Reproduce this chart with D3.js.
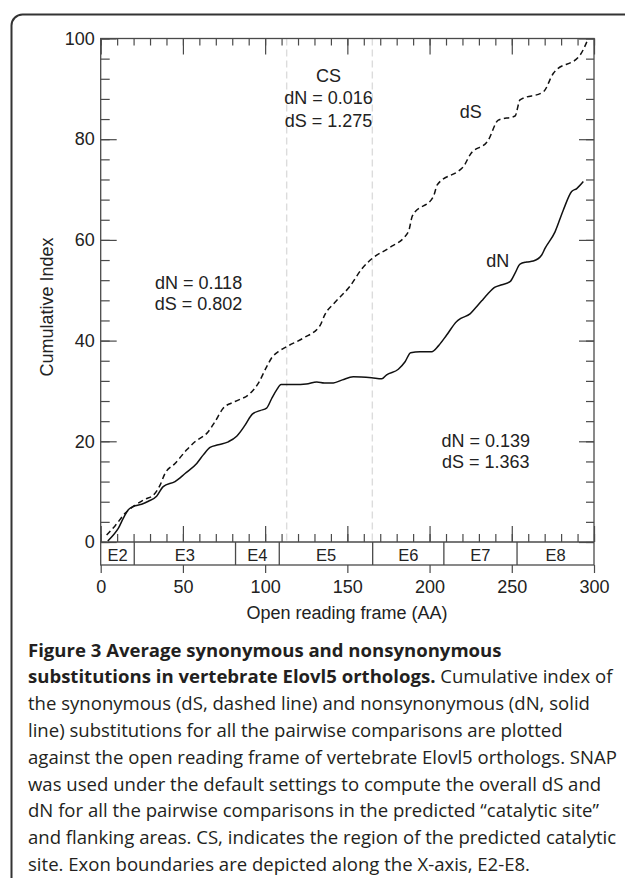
<!DOCTYPE html>
<html><head><meta charset="utf-8">
<script src="https://cdn.jsdelivr.net/npm/d3@7"></script>
<style>body{margin:0;background:#fff}</style>
</head><body><svg id="c" width="625" height="878"></svg>
<script>
// ---- data ----
const dnX = [4.3,7.7,10.7,13.7,16.8,20.9,24.9,29,34,38,45.2,51.3,58.4,62.4,66.5,71.5,77.6,82.7,87.8,92.2,96.9,100.9,104,107,109.7,118,125,131.4,136,141.5,147,153.6,164.8,170.9,173.9,181,185.1,188.5,194.2,201.3,205.5,210.4,216.5,219,224.6,228,231.7,235.5,239.8,244,248.9,252,255,259,263.1,268.2,270.2,276.3,281.3,286.4,289.5,293.5];
const dnY = [0.2,1.4,2.7,4.7,6.4,7.2,7.5,8.1,9.1,11,12,13.6,15.6,17.3,18.8,19.3,19.9,21,23.2,25.4,26.1,26.6,28.5,30.2,31.3,31.3,31.4,31.8,31.6,31.6,32.2,32.8,32.6,32.4,33.2,34.3,35.8,37.6,37.8,37.8,39,41.1,43.8,44.4,45.3,46.5,47.9,49.3,50.6,51.1,51.7,53.4,55.2,55.6,55.8,57,58.3,61.6,65.9,69.6,70.2,71.6];
const dsX = [3.6,8.7,14.8,20.9,27,32,36.1,39.1,45.2,52.3,57.3,65.4,69.5,74.6,81.7,90.8,95.8,100.9,104,108,113.1,123.2,133.4,136.4,142.5,151.6,158.7,165.8,174.9,187.1,189.6,202.3,204.8,218.5,220.5,224.6,235.7,241.8,252,255,269.2,275.3,291.5,296.5];
const dsY = [1.4,3.2,5.7,7.3,8.5,9.3,11.3,13.6,15.6,18.3,19.9,21.9,23.9,26.6,27.9,29.5,31.5,34.8,36.6,37.8,38.8,40.5,43,45.2,47.6,50.8,54.2,56.5,58.3,61.6,64.8,68.6,71,73.9,74.5,76.9,79.8,83.8,84.6,87.8,89.4,93.1,96.7,100];
const exonNames = ["E2","E3","E4","E5","E6","E7","E8"];
const exonStarts = [0,20.4,82,108.6,165.4,208.7,253.2];
const exonEnds = [20.4,82,108.6,165.4,208.7,253.2,300];
const csBounds = [113.1,165.2];
const xTicks = [0,50,100,150,200,250,300];
const yTicks = [0,20,40,60,80,100];
const regionTexts = [
  {lines:["CS","dN = 0.016","dS = 1.275"], xv:138.5, yv:[91.4,87.0,82.5]},
  {lines:["dN = 0.118","dS = 0.802"], xv:59.5, yv:[50.3,46.0]},
  {lines:["dN = 0.139","dS = 1.363"], xv:234.2, yv:[18.9,14.6]}
];
const seriesLabels = [{t:"dS", xv:225, yv:84.3},{t:"dN", xv:241.5, yv:54.6}];
const xTitle = "Open reading frame (AA)";
const yTitle = "Cumulative Index";
const captionLines = [
  [["b","Figure 3 Average synonymous and nonsynonymous"]],
  [["b","substitutions in vertebrate Elovl5 orthologs."],["r"," Cumulative index of"]],
  [["r","the synonymous (dS, dashed line) and nonsynonymous (dN, solid"]],
  [["r","line) substitutions for all the pairwise comparisons are plotted"]],
  [["r","against the open reading frame of vertebrate Elovl5 orthologs. SNAP"]],
  [["r","was used under the default settings to compute the overall dS and"]],
  [["r","dN for all the pairwise comparisons in the predicted \u201ccatalytic site\u201d"]],
  [["r","and flanking areas. CS, indicates the region of the predicted catalytic"]],
  [["r","site. Exon boundaries are depicted along the X-axis, E2-E8."]]
];

// ---- drawing ----
const svg = d3.select("#c");
const FONT = "'Liberation Sans', Arial, Helvetica, sans-serif";
const ink = "#222";
const axisCol = "#4a4a4a";
const x = d3.scaleLinear().domain([0,300]).range([100.7,594]);
const y = d3.scaleLinear().domain([0,100]).range([542,38.5]);
const bandBottom = 565;

// frame
svg.append("path").attr("d","M11.5,878 V25.5 A11,11 0 0 1 22.5,14.5 H625")
  .attr("fill","none").attr("stroke","#333").attr("stroke-width",2);

// CS guide lines
svg.selectAll(".cs").data(csBounds).enter().append("line")
  .attr("x1",d=>x(d)).attr("x2",d=>x(d)).attr("y1",y(100)).attr("y2",y(0))
  .attr("stroke","#dcdcdc").attr("stroke-width",1.4).attr("stroke-dasharray","7,4");

function tickAxis(gen, tr, vals, size){
  const g = svg.append("g").attr("transform",tr)
    .call(gen.tickValues(vals).tickSize(size).tickFormat(""));
  g.select(".domain").remove();
  g.selectAll("line").attr("stroke",axisCol).attr("stroke-width",1.2);
  return g;
}
const minorX = d3.range(0,301,10), minorY = d3.range(0,101,4);
tickAxis(d3.axisBottom(x), `translate(0,${y(100)})`, minorX, 7);
tickAxis(d3.axisBottom(x), `translate(0,${y(100)})`, xTicks, 16);
tickAxis(d3.axisTop(x), `translate(0,${y(0)})`, minorX, 8);
tickAxis(d3.axisTop(x), `translate(0,${y(0)})`, xTicks, 16);
tickAxis(d3.axisRight(y), `translate(${x(0)},0)`, minorY, 9);
tickAxis(d3.axisRight(y), `translate(${x(0)},0)`, yTicks, 16);
tickAxis(d3.axisLeft(y), `translate(${x(300)},0)`, minorY, 8);
tickAxis(d3.axisLeft(y), `translate(${x(300)},0)`, yTicks, 15);

// bottom axis with labels
const gb = svg.append("g").attr("transform",`translate(0,${bandBottom})`)
  .call(d3.axisBottom(x).tickValues(xTicks).tickSize(8).tickPadding(7.5));
gb.select(".domain").remove();
gb.selectAll("line").attr("stroke",axisCol).attr("stroke-width",1.2);
gb.selectAll("text").attr("font-family",FONT).attr("font-size",18).attr("fill",ink);

// left labels
const gl = svg.append("g").attr("transform",`translate(${x(0)},0)`)
  .call(d3.axisLeft(y).tickValues(yTicks).tickSize(0).tickPadding(6));
gl.select(".domain").remove();
gl.selectAll("text").attr("font-family",FONT).attr("font-size",18).attr("fill",ink);

// box
svg.append("rect").attr("x",x(0)).attr("y",y(100)).attr("width",x(300)-x(0)).attr("height",bandBottom-y(100))
  .attr("fill","none").attr("stroke",axisCol).attr("stroke-width",1.3);
svg.append("line").attr("x1",x(0)).attr("x2",x(300)).attr("y1",y(0)).attr("y2",y(0))
  .attr("stroke",axisCol).attr("stroke-width",1.3);

// exon band
svg.selectAll(".exb").data(exonStarts.slice(1)).enter().append("line")
  .attr("x1",d=>x(d)).attr("x2",d=>x(d)).attr("y1",y(0)).attr("y2",bandBottom)
  .attr("stroke",axisCol).attr("stroke-width",1.3);
svg.selectAll(".exl").data(exonNames).enter().append("text")
  .attr("x",(d,i)=>x((exonStarts[i]+exonEnds[i])/2)).attr("y",561)
  .attr("text-anchor","middle").attr("font-family",FONT).attr("font-size",16.5).attr("fill",ink)
  .text(d=>d);

// curves
const lineGen = d3.line().x(d=>x(d[0])).y(d=>y(d[1])).curve(d3.curveMonotoneX);
svg.append("path").datum(dsX.map((v,i)=>[v,dsY[i]])).attr("d",lineGen)
  .attr("fill","none").attr("stroke","#111").attr("stroke-width",1.5).attr("stroke-dasharray","5.5,3.5");
svg.append("path").datum(dnX.map((v,i)=>[v,dnY[i]])).attr("d",lineGen)
  .attr("fill","none").attr("stroke","#111").attr("stroke-width",1.5);

// annotations
regionTexts.forEach(r=>{
  r.lines.forEach((t,i)=>{
    svg.append("text").attr("x",x(r.xv)).attr("y",y(r.yv[i])).attr("text-anchor","middle")
      .attr("font-family",FONT).attr("font-size",18).attr("fill",ink).text(t);
  });
});
seriesLabels.forEach(s=>{
  svg.append("text").attr("x",x(s.xv)).attr("y",y(s.yv)).attr("text-anchor","middle")
    .attr("font-family",FONT).attr("font-size",18).attr("fill",ink).text(s.t);
});

// titles
svg.append("text").attr("x",347).attr("y",619.3).attr("text-anchor","middle")
  .attr("font-family",FONT).attr("font-size",18).attr("fill",ink).text(xTitle);
svg.append("text").attr("transform","translate(53.3,307) rotate(-90)").attr("text-anchor","middle")
  .attr("font-family",FONT).attr("font-size",18).attr("fill",ink).text(yTitle);

// caption
const CF = "'Open Sans', 'Noto Sans', sans-serif";
const cap = svg.append("g");
let fs = 17;
const texts = captionLines.map((parts,i)=>{
  const t = cap.append("text").attr("x",28).attr("y",656.5+26.8*i)
    .attr("font-family",CF).attr("font-size",fs).attr("fill","#231f20");
  parts.forEach(p=>{
    t.append("tspan").attr("font-weight",p[0]==="b"?700:400).text(p[1]);
  });
  return t;
});
const w = texts[1].node().getComputedTextLength();
fs = fs*585/w;
texts.forEach(t=>t.attr("font-size",fs));
</script>
</body></html>
